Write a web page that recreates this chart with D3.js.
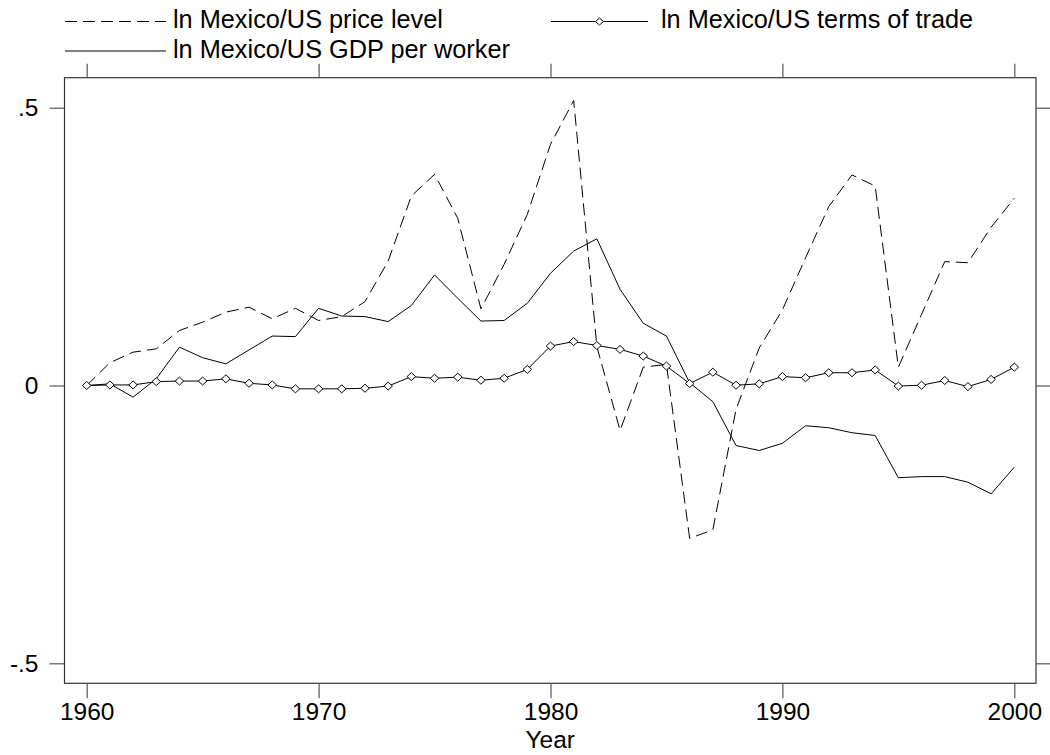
<!DOCTYPE html>
<html>
<head>
<meta charset="utf-8">
<script src="https://cdn.jsdelivr.net/npm/d3@7"></script>
<style>
  html, body { margin: 0; padding: 0; background: #fff; }
  svg { display: block; font-family: "Liberation Sans", Arial, Helvetica, sans-serif; }
</style>
</head>
<body>
<svg id="chart" width="1050" height="755"></svg>
<script>
const years = [1960,1961,1962,1963,1964,1965,1966,1967,1968,1969,
               1970,1971,1972,1973,1974,1975,1976,1977,1978,1979,
               1980,1981,1982,1983,1984,1985,1986,1987,1988,1989,
               1990,1991,1992,1993,1994,1995,1996,1997,1998,1999,2000];

const priceLevel = [0, 0.041, 0.060, 0.066, 0.099, 0.114, 0.132, 0.141, 0.120, 0.139,
                    0.117, 0.124, 0.151, 0.224, 0.341, 0.380, 0.301, 0.138, 0.218, 0.308,
                    0.434, 0.513, 0.070, -0.081, 0.033, 0.038, -0.275, -0.260, -0.043, 0.0675,
                    0.136, 0.230, 0.322, 0.379, 0.359, 0.033, 0.128, 0.223, 0.221, 0.285, 0.337];

const termsOfTrade = [0, 0.001, 0.001, 0.007, 0.008, 0.008, 0.012, 0.004, 0.001, -0.006,
                      -0.006, -0.006, -0.005, -0.001, 0.016, 0.013, 0.015, 0.0095, 0.013, 0.029,
                      0.071, 0.079, 0.072, 0.065, 0.053, 0.035, 0.0035, 0.024, 0.0005, 0.003,
                      0.016, 0.014, 0.023, 0.023, 0.028, -0.001, 0.0005, 0.009, -0.002, 0.011, 0.033];

const gdpPerWorker = [0, 0.003, -0.021, 0.012, 0.069, 0.050, 0.039, 0.064, 0.089, 0.088,
                      0.139, 0.125, 0.124, 0.115, 0.144, 0.199, 0.157, 0.116, 0.117, 0.148,
                      0.202, 0.242, 0.264, 0.173, 0.112, 0.089, 0.005, -0.029, -0.108, -0.117,
                      -0.104, -0.0725, -0.076, -0.085, -0.090, -0.166, -0.164, -0.164, -0.174, -0.195, -0.147];

const xTicks = [1960, 1970, 1980, 1990, 2000];
const yTicks = [-0.5, 0, 0.5];
const yTickLabels = ["-.5", "0", ".5"];
const seriesNames = ["ln Mexico/US price level", "ln Mexico/US terms of trade", "ln Mexico/US GDP per worker"];
const xTitle = "Year";

const svg = d3.select("#chart");
const frame = {left: 64.5, right: 1036, top: 77.7, bottom: 683.3};
const x = d3.scaleLinear().domain([1960, 2000]).range([86.7, 1014.3]);
const y = d3.scaleLinear().domain([-0.5, 0.5]).range([663.3, 107.7]);
const fs = 24.5;
const legendFs = 25.3;
const tickColor = "#555";

// frame
svg.append("rect")
  .attr("x", frame.left).attr("y", frame.top)
  .attr("width", frame.right - frame.left).attr("height", frame.bottom - frame.top)
  .attr("fill", "none").attr("stroke", "#333").attr("stroke-width", 1.2);

function styleAxis(g, showText) {
  g.select(".domain").remove();
  g.selectAll(".tick line").attr("stroke", tickColor).attr("stroke-width", 1.2);
  g.selectAll(".tick text").attr("fill", "#000").style("font-size", fs + "px")
    .style("font-family", '"Liberation Sans", Arial, Helvetica, sans-serif');
  if (!showText) g.selectAll(".tick text").remove();
}

svg.append("g").attr("transform", `translate(${frame.left},0)`)
  .call(d3.axisLeft(y).tickValues(yTicks).tickSize(15).tickPadding(11)
    .tickFormat((d, i) => yTickLabels[i]))
  .call(g => styleAxis(g, true));

svg.append("g").attr("transform", `translate(${frame.right},0)`)
  .call(d3.axisRight(y).tickValues(yTicks).tickSize(15))
  .call(g => styleAxis(g, false));

svg.append("g").attr("transform", `translate(0,${frame.bottom})`)
  .call(d3.axisBottom(x).tickValues(xTicks).tickSize(15).tickPadding(4).tickFormat(d3.format("d")))
  .call(g => styleAxis(g, true));

svg.append("g").attr("transform", `translate(0,${frame.top})`)
  .call(d3.axisTop(x).tickValues(xTicks).tickSize(14))
  .call(g => styleAxis(g, false));

// x title
svg.append("text").attr("x", (frame.left + frame.right) / 2).attr("y", 747.5)
  .attr("text-anchor", "middle").style("font-size", fs + "px").text(xTitle);

// series
const line = d3.line().x((d, i) => x(years[i])).y(d => y(d));
const plot = svg.append("g");

plot.append("path").datum(gdpPerWorker).attr("d", line)
  .attr("fill", "none").attr("stroke", "#000").attr("stroke-width", 1);

plot.append("path").datum(priceLevel).attr("d", line)
  .attr("fill", "none").attr("stroke", "#000").attr("stroke-width", 1)
  .attr("stroke-dasharray", "12,6");

plot.append("path").datum(termsOfTrade).attr("d", line)
  .attr("fill", "none").attr("stroke", "#000").attr("stroke-width", 1);

const diamond = "M0,-4L4.3,0L0,4L-4.3,0Z";
plot.selectAll("path.dm").data(termsOfTrade).enter().append("path")
  .attr("class", "dm")
  .attr("transform", (d, i) => `translate(${x(years[i])},${y(d)})`)
  .attr("d", diamond).attr("fill", "#fff").attr("stroke", "#000").attr("stroke-width", 1);

// legend
const legend = svg.append("g");
const legendItems = [
  {name: seriesNames[0], x0: 65, x1: 166, ly: 21.5, ty: 28, tx: 173, dash: "12,6", marker: false},
  {name: seriesNames[1], x0: 551, x1: 648, ly: 21.5, ty: 28, tx: 661, dash: null, marker: true},
  {name: seriesNames[2], x0: 65, x1: 166, ly: 51, ty: 57.5, tx: 173, dash: null, marker: false}
];
legendItems.forEach(it => {
  const l = legend.append("line").attr("x1", it.x0).attr("x2", it.x1)
    .attr("y1", it.ly).attr("y2", it.ly).attr("stroke", "#000").attr("stroke-width", 1);
  if (it.dash) l.attr("stroke-dasharray", it.dash);
  if (it.marker) {
    legend.append("path").attr("transform", `translate(${(it.x0 + it.x1) / 2},${it.ly})`)
      .attr("d", "M0,-3.5L4,0L0,3.5L-4,0Z").attr("fill", "#fff").attr("stroke", "#000");
  }
  legend.append("text").attr("x", it.tx).attr("y", it.ty)
    .style("font-size", legendFs + "px").text(it.name);
});
</script>
</body>
</html>
